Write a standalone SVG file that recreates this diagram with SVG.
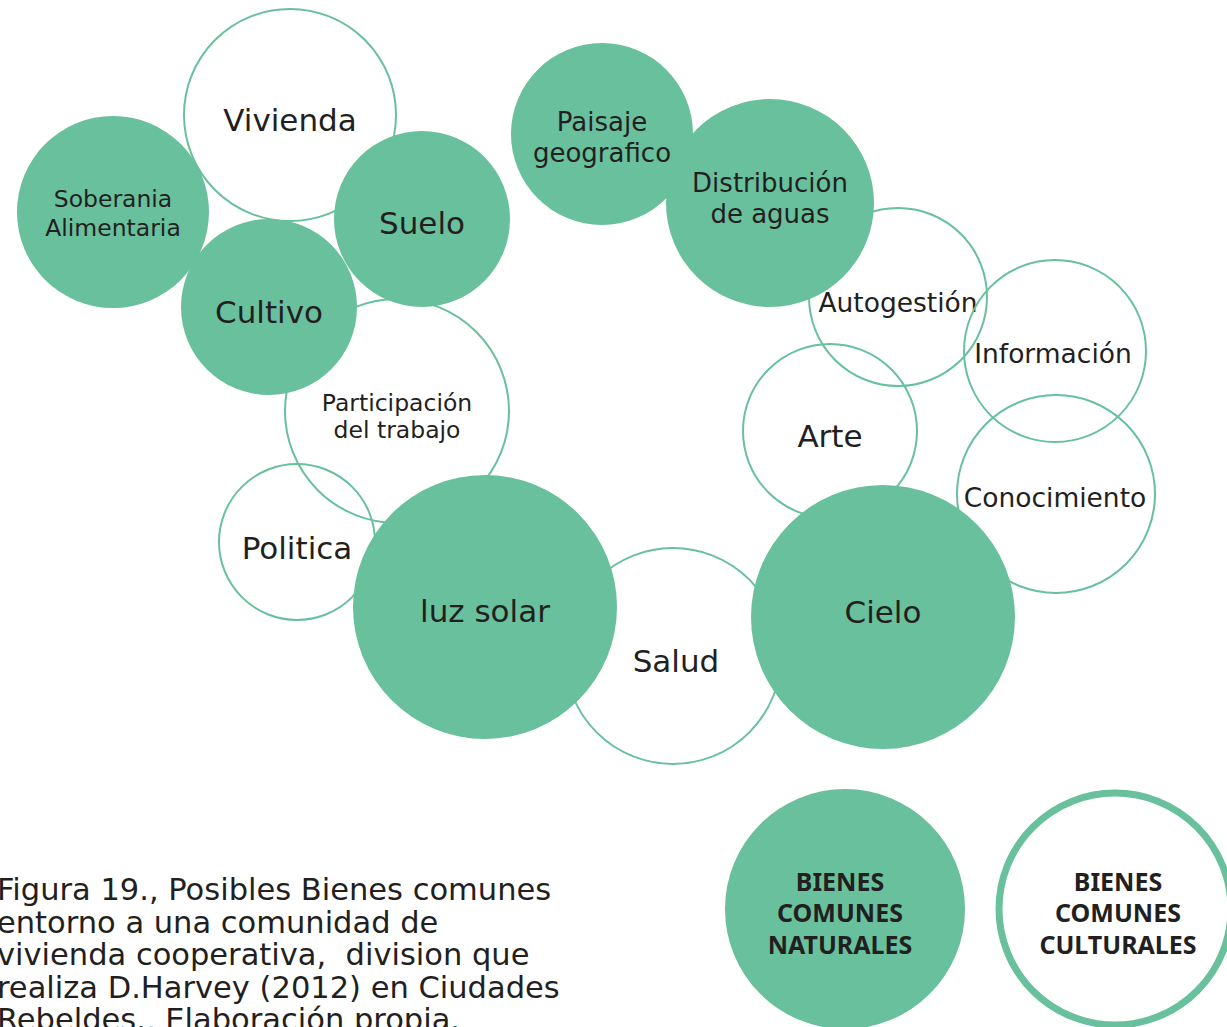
<svg xmlns="http://www.w3.org/2000/svg" width="1227" height="1027" viewBox="0 0 1227 1027">
<style>
.o{fill:none;stroke:#68C09D;stroke-width:2}
.f{fill:#68C09D}
text{font-family:"DejaVu Sans","Noto Sans",sans-serif;fill:#231F20;text-anchor:middle}
.l{font-size:31px}
.m{font-size:26px}
.s{font-size:23.5px}
.t{font-size:26.5px}
.b{font-family:"Noto Sans","DejaVu Sans",sans-serif;font-size:25px;font-weight:bold}
.cap{font-size:30.5px;text-anchor:start;white-space:pre}
</style>
<rect width="1227" height="1027" fill="#ffffff"/>
<g id="outline-nodes">
<g id="vivienda"><circle class="o" cx="290" cy="115" r="106"/><text class="l" x="290" y="131">Vivienda</text></g>
<g id="participacion"><circle class="o" cx="397" cy="411" r="112"/><text class="s" x="397" y="411">Participación</text><text class="s" x="397" y="438">del trabajo</text></g>
<g id="politica"><circle class="o" cx="297" cy="542" r="78"/><text class="l" x="297" y="559">Politica</text></g>
<g id="salud"><circle class="o" cx="673" cy="656" r="108"/><text class="l" x="676" y="672">Salud</text></g>
<g id="autogestion"><circle class="o" cx="898" cy="297" r="89"/><text class="t" x="898" y="312">Autogestión</text></g>
<g id="informacion"><circle class="o" cx="1055" cy="351" r="91"/><text class="t" x="1053" y="363">Información</text></g>
<g id="arte"><circle class="o" cx="830" cy="431" r="87"/><text class="l" x="830" y="447">Arte</text></g>
<g id="conocimiento"><circle class="o" cx="1056" cy="494" r="99"/><text class="t" x="1055" y="507">Conocimiento</text></g>
</g>
<g id="filled-nodes">
<g id="soberania"><circle class="f" cx="113" cy="212" r="96"/><text class="s" x="113" y="207">Soberania</text><text class="s" x="113" y="236">Alimentaria</text></g>
<g id="suelo"><circle class="f" cx="422" cy="219" r="88"/><text class="l" x="422" y="234">Suelo</text></g>
<g id="cultivo"><circle class="f" cx="269" cy="307" r="88"/><text class="l" x="269" y="323">Cultivo</text></g>
<g id="paisaje"><circle class="f" cx="602" cy="134" r="91"/><text class="m" x="602" y="131">Paisaje</text><text class="m" x="602" y="162">geografico</text></g>
<g id="distribucion"><circle class="f" cx="770" cy="203" r="104"/><text class="m" x="770" y="192">Distribución</text><text class="m" x="770" y="223">de aguas</text></g>
<g id="luz-solar"><circle class="f" cx="485" cy="607" r="132"/><text class="l" x="485" y="622">luz solar</text></g>
<g id="cielo"><circle class="f" cx="883" cy="617" r="132"/><text class="l" x="883" y="623">Cielo</text></g>
</g>
<g id="legend">
<g id="bienes-naturales"><circle class="f" cx="845" cy="909" r="120"/><text class="b" x="840" y="891">BIENES</text><text class="b" x="840" y="922">COMUNES</text><text class="b" x="840" y="954">NATURALES</text></g>
<g id="bienes-culturales"><circle cx="1115" cy="909" r="116" fill="none" stroke="#68C09D" stroke-width="7"/><text class="b" x="1118" y="891">BIENES</text><text class="b" x="1118" y="922">COMUNES</text><text class="b" x="1118" y="954">CULTURALES</text></g>
</g>
<g id="caption">
<text class="cap" x="-3" y="900">Figura 19., Posibles Bienes comunes</text>
<text class="cap" x="-3" y="933">entorno a una comunidad de</text>
<text class="cap" x="-3" y="965">vivienda cooperativa,  division que</text>
<text class="cap" x="-3" y="998">realiza D.Harvey (2012) en Ciudades</text>
<text class="cap" x="-3" y="1030">Rebeldes., Elaboración propia.</text>
</g>
</svg>
